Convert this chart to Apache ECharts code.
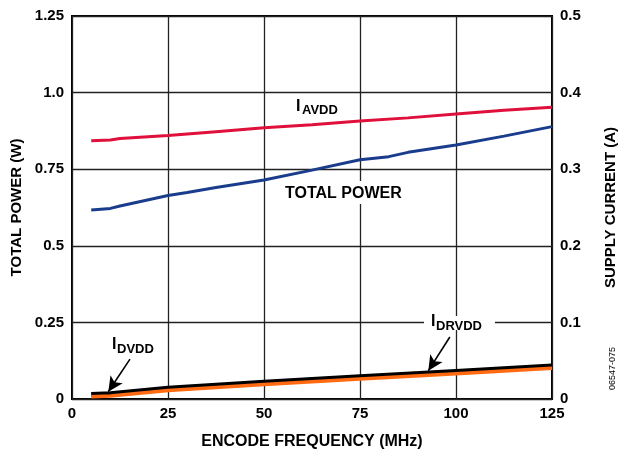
<!DOCTYPE html>
<html><head><meta charset="utf-8">
<script src="https://cdn.jsdelivr.net/npm/echarts@6/dist/echarts.min.js"></script>
<style>html,body{margin:0;padding:0;background:#fff}#c{width:618px;height:454px}</style>
</head><body><div id="c"></div>
<script>
// Total power (W), left axis
const powerFreq = [5, 10, 12.5, 25, 30, 37.5, 50, 62.5, 75, 82.5, 87.5, 100, 112.5, 125];
const totalPower = [0.617, 0.622, 0.630, 0.664, 0.674, 0.690, 0.715, 0.747, 0.781, 0.791, 0.805, 0.829, 0.858, 0.889];
// Supply currents (A), right axis
const avddFreq = [5, 10, 12.5, 25, 37.5, 50, 62.5, 75, 87.5, 100, 112.5, 125];
const iAvdd = [0.337, 0.338, 0.340, 0.344, 0.349, 0.354, 0.358, 0.363, 0.367, 0.372, 0.377, 0.381];
const lowFreq = [5, 10, 25, 50, 75, 100, 125];
const iDvdd = [0.006, 0.007, 0.014, 0.022, 0.029, 0.036, 0.043];
const iDrvdd = [0.003, 0.004, 0.011, 0.019, 0.026, 0.033, 0.040];
const xTicks = [0, 25, 50, 75, 100, 125];
const leftTickLabels = ['0', '0.25', '0.5', '0.75', '1.0', '1.25'];
const rightTickLabels = ['0', '0.1', '0.2', '0.3', '0.4', '0.5'];
// arrow annotations (data coords: [MHz, A])
const dvddArrow = [[15.1, 0.052], [9.45, 0.0095]];
const drvddArrow = [[98.4, 0.081], [92.8, 0.037]];

const zip = (xs, ys) => xs.map((x, i) => [x, ys[i]]);
const F = '"Liberation Sans", Arial, sans-serif';
const chart = echarts.init(document.getElementById('c'));
const labelStyle = {fontFamily: F, fontWeight: 'bold', fontSize: 15, color: '#000'};
chart.setOption({
  animation: false,
  grid: {left: 72, right: 66, top: 16, bottom: 55, outerBoundsMode: 'none', containLabel: false,
    show: true, borderColor: '#000', borderWidth: 2, backgroundColor: 'transparent'},
  xAxis: {
    type: 'value', min: 0, max: 125, interval: 25,
    name: 'ENCODE FREQUENCY (MHz)', nameLocation: 'middle', nameGap: 35,
    nameTextStyle: Object.assign({}, labelStyle, {fontSize: 16}),
    axisLine: {show: false}, axisTick: {show: false},
    axisLabel: Object.assign({margin: 7}, labelStyle),
    splitLine: {show: true, lineStyle: {color: '#222', width: 1.3}}
  },
  yAxis: [{
    type: 'value', min: 0, max: 1.25, interval: 0.25,
    name: 'TOTAL POWER (W)', nameLocation: 'middle', nameGap: 47, nameRotate: 90,
    nameTextStyle: labelStyle,
    axisLine: {show: false}, axisTick: {show: false},
    axisLabel: Object.assign({margin: 8, formatter: v => leftTickLabels[Math.round(v / 0.25)]}, labelStyle),
    splitLine: {show: true, lineStyle: {color: '#222', width: 1.3}}
  }, {
    type: 'value', min: 0, max: 0.5, interval: 0.1, position: 'right',
    name: 'SUPPLY CURRENT (A)', nameLocation: 'middle', nameGap: 51, nameRotate: 90,
    nameTextStyle: labelStyle,
    axisLine: {show: false}, axisTick: {show: false},
    axisLabel: Object.assign({margin: 8, formatter: v => rightTickLabels[Math.round(v / 0.1)]}, labelStyle),
    splitLine: {show: false}
  }],
  series: [
    {type: 'line', yAxisIndex: 1, data: zip(avddFreq, iAvdd), showSymbol: false, lineStyle: {color: '#e0103c', width: 3}, z: 3},
    {type: 'line', yAxisIndex: 0, data: zip(powerFreq, totalPower), showSymbol: false, lineStyle: {color: '#1a3c8c', width: 3}, z: 3},
    {type: 'line', yAxisIndex: 1, data: zip(lowFreq, iDvdd), showSymbol: false, lineStyle: {color: '#000', width: 5}, z: 3,
      markLine: {silent: true, symbol: ['none', 'arrow'], symbolSize: [11, 15], label: {show: false},
        lineStyle: {color: '#000', width: 1.6, type: 'solid'},
        data: [
          [{coord: dvddArrow[0]}, {coord: dvddArrow[1]}],
          [{coord: drvddArrow[0]}, {coord: drvddArrow[1]}]
        ]}},
    {type: 'line', yAxisIndex: 1, data: zip(lowFreq, iDrvdd), showSymbol: false, lineStyle: {color: '#ff6a13', width: 3.5}, z: 4}
  ],
  graphic: [
    {type: 'rect', z: 100, shape: {x: 283, y: 181, width: 123, height: 23}, style: {fill: '#fff'}},
    {type: 'rect', z: 100, shape: {x: 424, y: 316, width: 71, height: 14}, style: {fill: '#fff'}},
    {type: 'text', z: 101, style: {x: 285, y: 186, text: 'TOTAL POWER', font: 'bold 16px ' + F, fill: '#000'}},
    {type: 'text', z: 101, style: {x: 296, y: 99, text: 'I', font: 'bold 16px ' + F, fill: '#000'}},
    {type: 'text', z: 101, style: {x: 302, y: 104, text: 'AVDD', font: 'bold 13px ' + F, fill: '#000'}},
    {type: 'text', z: 101, style: {x: 112, y: 337, text: 'I', font: 'bold 16px ' + F, fill: '#000'}},
    {type: 'text', z: 101, style: {x: 117, y: 343, text: 'DVDD', font: 'bold 13px ' + F, fill: '#000'}},
    {type: 'text', z: 101, style: {x: 431, y: 314, text: 'I', font: 'bold 16px ' + F, fill: '#000'}},
    {type: 'text', z: 101, style: {x: 436, y: 320, text: 'DRVDD', font: 'bold 13px ' + F, fill: '#000'}},
    {type: 'text', z: 101, rotation: Math.PI / 2, x: 608, y: 390, style: {x: 0, y: 0, text: '06547-075', font: '9px ' + F, fill: '#000'}}
  ]
});
</script></body></html>
